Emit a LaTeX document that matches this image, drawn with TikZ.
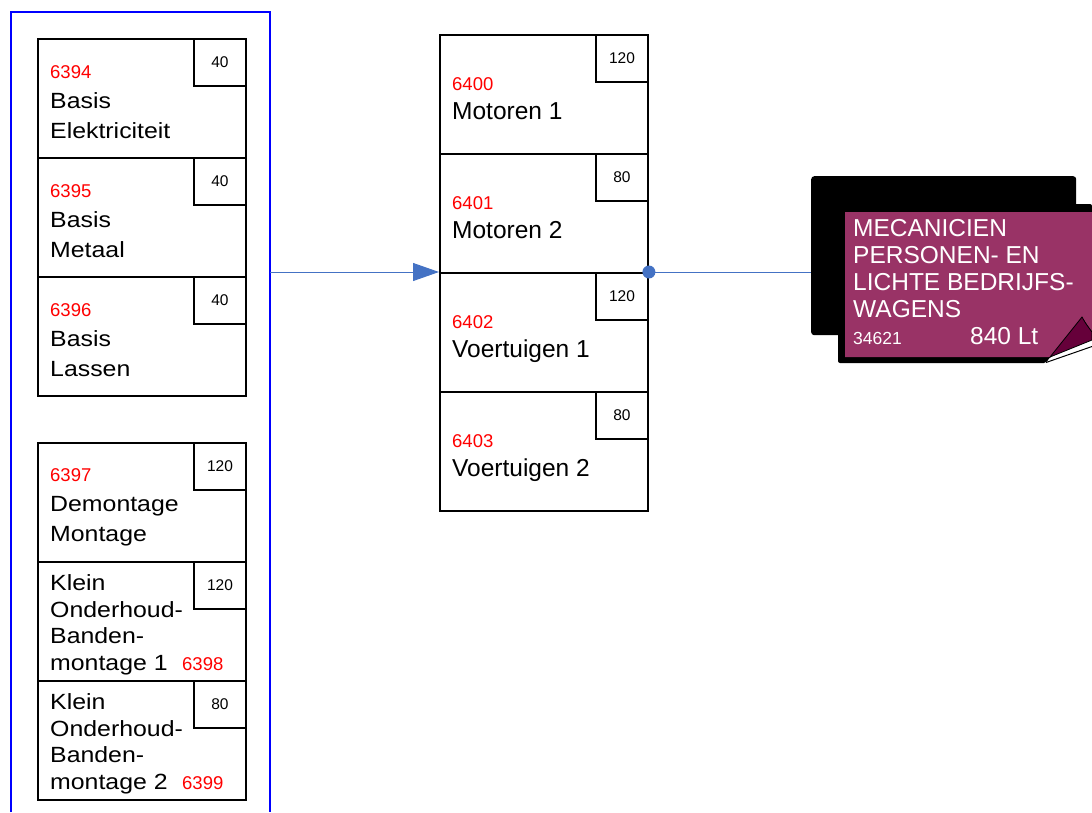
\documentclass[tikz,border=0pt]{standalone}
\usepackage{fontspec}
\setmainfont{Liberation Sans}
\newfontfamily\widesans[FakeStretch=1.13]{Liberation Sans}
\usetikzlibrary{arrows.meta}
\definecolor{conncol}{HTML}{4472C4}
\definecolor{jobcol}{HTML}{993366}
\definecolor{foldcol}{HTML}{66003A}
\begin{document}
\begin{tikzpicture}[x=1pt,y=-1pt,
  cbox/.style={draw, line width=1.9pt, minimum width=208pt, minimum height=119pt, anchor=north west, inner sep=0pt},
  nbox/.style={draw, line width=1.9pt, minimum width=52pt, minimum height=47pt, anchor=north east, inner sep=0pt, font=\fontsize{15.5}{18}\selectfont},
  lbl/.style={anchor=base west, align=left, inner sep=0pt, font=\widesans\fontsize{22}{30}\selectfont},
  lblb/.style={anchor=base west, align=left, inner sep=0pt, font=\widesans\fontsize{22}{26.5}\selectfont},
  mlbl/.style={anchor=base west, align=left, inner sep=0pt, font=\fontsize{24.5}{29}\selectfont},
  code/.style={anchor=base west, inner sep=0pt, text=red, font=\fontsize{18.5}{22}\selectfont},
  wtxt/.style={anchor=base west, align=left, inner sep=0pt, text=white, font=\fontsize{24.5}{27}\selectfont},
  conn/.style={draw=conncol, line width=1pt}
]
\useasboundingbox (0,0) rectangle (1092,812);
% blue frame (open at the bottom, runs off the page)
\draw[blue, line width=2pt] (11,812) -- (11,12) -- (270,12) -- (270,812);
\coordinate (src) at (270,272);

% ---- left column, upper group (multi-line labels are placed by their last baseline)
\node[cbox] (b1) at (37,38) {};
\node[nbox] (b1n) at (b1.north east) {40};
\node[code] (b1c) at (50,78) {6394};
\node[lbl] (b1t) at (50,138) {Basis\\Elektriciteit};

\node[cbox] (b2) at (37,157) {};
\node[nbox] (b2n) at (b2.north east) {40};
\node[code] (b2c) at (50,197) {6395};
\node[lbl] (b2t) at (50,257) {Basis\\Metaal};

\node[cbox] (b3) at (37,276) {};
\node[nbox] (b3n) at (b3.north east) {40};
\node[code] (b3c) at (50,316) {6396};
\node[lbl] (b3t) at (50,376) {Basis\\Lassen};

% ---- left column, lower group
\node[cbox] (b4) at (37,442) {};
\node[nbox] (b4n) at (b4.north east) {120};
\node[code] (b4c) at (50,481) {6397};
\node[lbl] (b4t) at (50,541) {Demontage\\Montage};

\node[cbox] (b5) at (37,561) {};
\node[nbox] (b5n) at (b5.north east) {120};
\node[lblb] (b5t) at (50,670) {Klein\\Onderhoud-\\Banden-\\montage 1};
\node[code] (b5c) at (182,670) {6398};

\node[cbox] (b6) at (37,680) {};
\node[nbox] (b6n) at (b6.north east) {80};
\node[lblb] (b6t) at (50,789) {Klein\\Onderhoud-\\Banden-\\montage 2};
\node[code] (b6c) at (182,789) {6399};

% ---- middle column
\node[cbox] (m1) at (439,34) {};
\node[nbox] (m1n) at (m1.north east) {120};
\node[code] (m1c) at (452,90) {6400};
\node[mlbl] (m1t) at (452,119) {Motoren 1};

\node[cbox] (m2) at (439,153) {};
\node[nbox] (m2n) at (m2.north east) {80};
\node[code] (m2c) at (452,209) {6401};
\node[mlbl] (m2t) at (452,238) {Motoren 2};

\node[cbox] (m3) at (439,272) {};
\node[nbox] (m3n) at (m3.north east) {120};
\node[code] (m3c) at (452,328) {6402};
\node[mlbl] (m3t) at (452,357) {Voertuigen 1};

\node[cbox] (m4) at (439,391) {};
\node[nbox] (m4n) at (m4.north east) {80};
\node[code] (m4c) at (452,447) {6403};
\node[mlbl] (m4t) at (452,476) {Voertuigen 2};

% ---- job card
\node[fill=black, rounded corners=3pt, minimum width=265pt, minimum height=159pt, anchor=north west, inner sep=0pt] (job) at (811,176) {};
\fill[black, rounded corners=2pt] (838,204) -- (1092,204) -- (1092,338) -- (1050,357) -- (1046,363) -- (838,363) -- cycle;
\draw[black, line width=1pt] (1046,362.5) -- (1092,346.5);
\fill[jobcol] (845,212) -- (1092,212) -- (1092,332) .. controls (1088,326) .. (1082,317) -- (1050,357) -- (845,357) -- cycle;
\filldraw[fill=foldcol, draw=black, line width=0.8pt] (1082,317) .. controls (1086,324) .. (1092,332) -- (1092,340) -- (1050,357) -- cycle;
\node[wtxt] (jobt) at (853,317) {MECANICIEN\\PERSONEN- EN\\LICHTE BEDRIJFS-\\WAGENS};
\node[anchor=base west, inner sep=0pt, text=white, font=\fontsize{17.5}{20}\selectfont] (jobc) at (853,344) {34621};
\node[anchor=base west, inner sep=0pt, text=white, font=\fontsize{24.5}{27}\selectfont] (jobh) at (970,344) {840 Lt};

% ---- connectors
\draw[conn, -{Triangle[length=26pt, width=18pt]}] (src) -- (m3.north west);
\draw[conn] (m3.north east) -- (job.west |- m3.north east);
\fill[conncol] (m3.north east) circle (6.5pt);
\end{tikzpicture}
\end{document}
